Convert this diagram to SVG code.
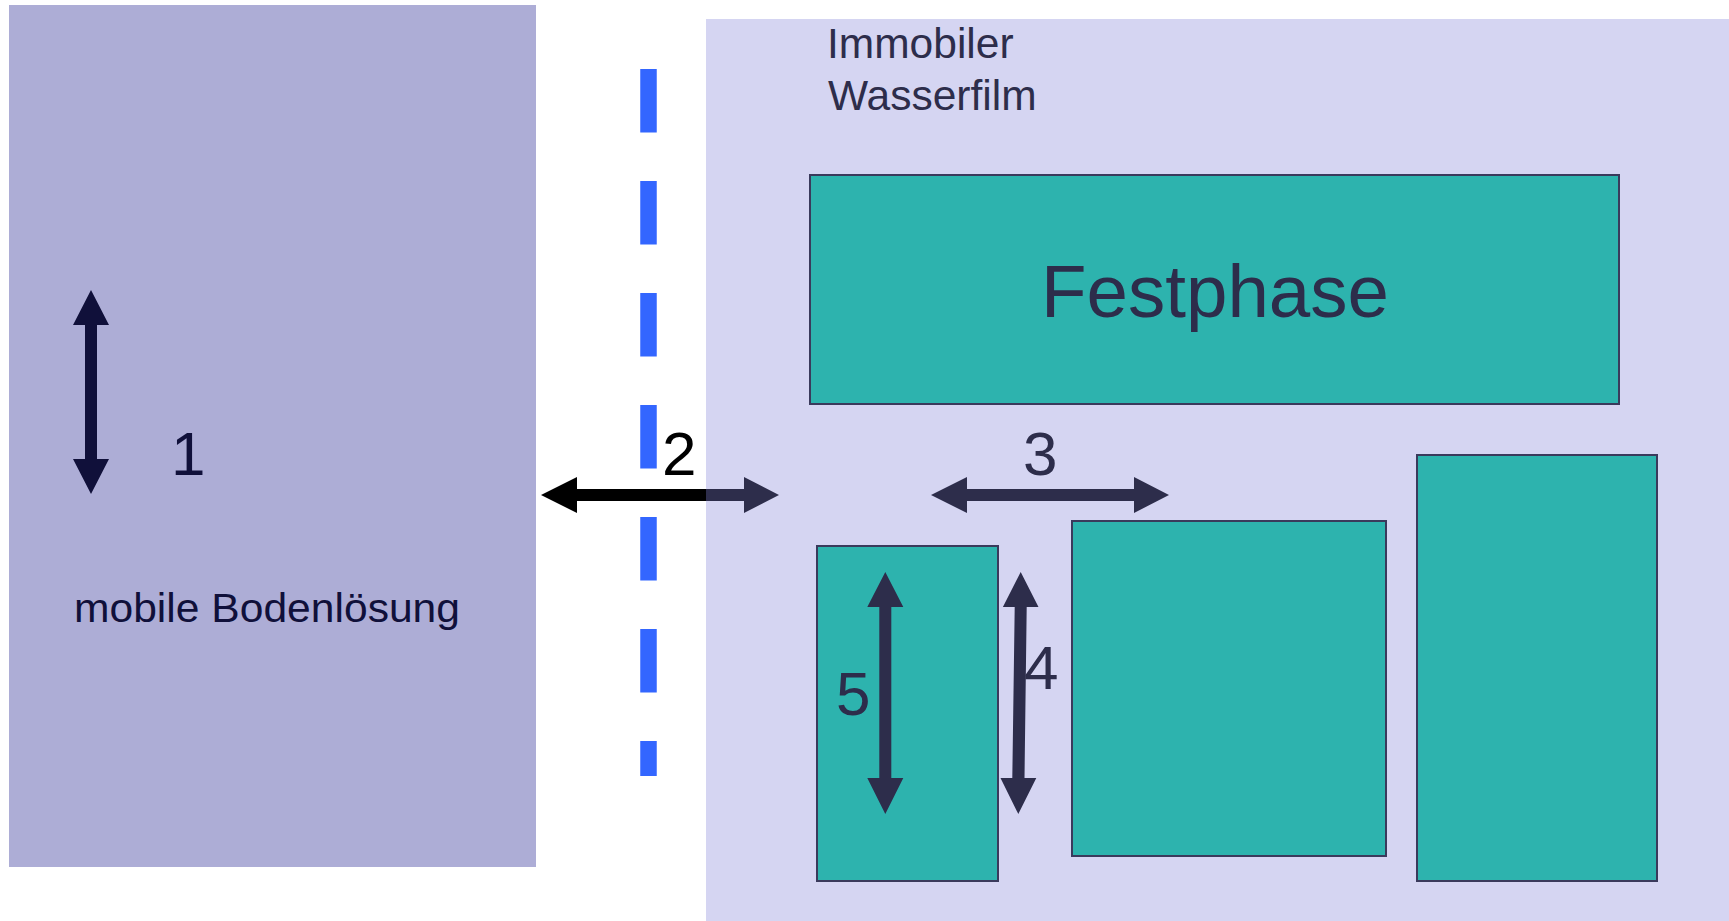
<svg xmlns="http://www.w3.org/2000/svg" width="1729" height="921" viewBox="0 0 1729 921">
<style>
.mobile{fill:#adadd6}
.immob{fill:#d5d5f2}
.solid{fill:#2db3ae;stroke:#3a3a5c;stroke-width:2}
.t{font-family:"Liberation Sans",Arial,sans-serif}
.navy{fill:#10103a}
.dark{fill:#2d2d4b}
.blk{fill:#000}
.dash{stroke:#3366ff;stroke-width:16.5;stroke-dasharray:63.5 48.5;fill:none}
</style>
<rect width="1729" height="921" fill="#ffffff"/>
<g id="mobile-bodenloesung">
<rect class="mobile" x="9" y="5" width="527" height="862"/>
<text class="t navy" x="74" y="622" font-size="41" textLength="386" lengthAdjust="spacingAndGlyphs">mobile Bodenlösung</text>
<text class="t navy" x="171" y="475" font-size="62">1</text>
</g>
<g id="immobiler-wasserfilm">
<rect class="immob" x="706" y="19" width="1023" height="902"/>
<text class="t dark" font-size="42.5"><tspan x="827" y="58">Immobiler</tspan><tspan x="828" y="110">Wasserfilm</tspan></text>
</g>
<g id="grenze">
<line class="dash" x1="648.5" y1="69" x2="648.5" y2="776"/>
</g>
<g id="festphase">
<rect class="solid" x="810" y="175" width="809" height="229"/>
<text class="t dark" x="1215" y="317" font-size="74.5" text-anchor="middle">Festphase</text>
</g>
<g id="partikel-1">
<rect class="solid" x="817" y="546" width="181" height="335"/>
</g>
<g id="partikel-2">
<rect class="solid" x="1072" y="521" width="314" height="335"/>
</g>
<g id="partikel-3">
<rect class="solid" x="1417" y="455" width="240" height="426"/>
</g>
<g id="connectors">
<path class="navy" d="M91,290 L109,325 L97,325 L97,459 L109,459 L91,494 L73,459 L85,459 L85,325 L73,325 Z"/>
<path class="blk" d="M541,495 L577,477 L577,489 L706,489 L706,501 L577,501 L577,513 Z"/>
<path class="dark" d="M706,489 L744,489 L744,477 L779,495 L744,513 L744,501 L706,501 Z"/>
<path class="dark" d="M931,495 L967,477 L967,489 L1134,489 L1134,477 L1169,495 L1134,513 L1134,501 L967,501 L967,513 Z"/>
<path class="dark" d="M885.3,572 L903.3,607 L891.3,607 L891.3,778 L903.3,778 L885.3,814 L867.3,778 L879.3,778 L879.3,607 L867.3,607 Z"/>
<path class="dark" d="M1020.7,572 L1038.5,607 L1026.7,607 L1024.5,778 L1036.3,778 L1018.3,814 L1000.5,778 L1012.3,778 L1014.7,607 L1002.9,607 Z"/>
</g>
<g id="labels">
<text class="t blk" x="662" y="475" font-size="62">2</text>
<text class="t dark" x="1023" y="475" font-size="62">3</text>
<text class="t dark" x="1024" y="689" font-size="62">4</text>
<text class="t dark" x="836" y="715" font-size="62">5</text>
</g>
</svg>
